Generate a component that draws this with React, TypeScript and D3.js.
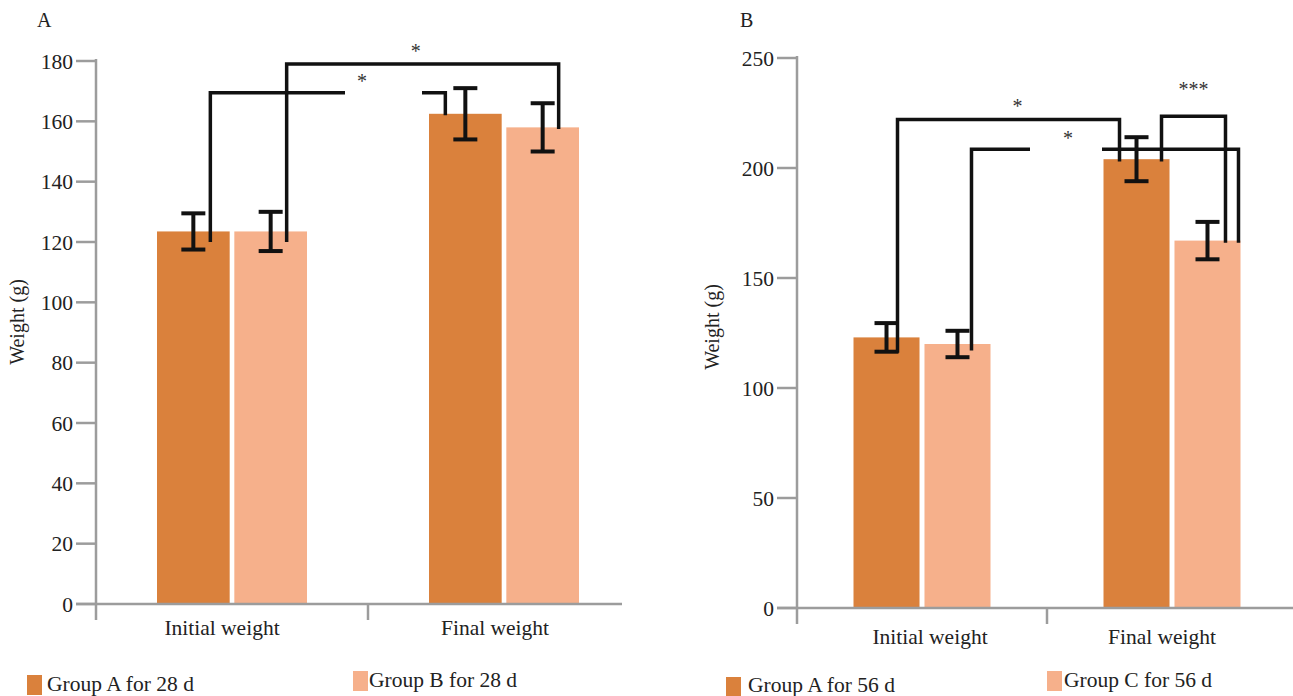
import React from "react";
import * as d3 from "d3";

// Shared categories on the x axis
const categories = ["Initial weight", "Final weight"];

// Panel A: 28-day trial
const panelASeries = ["Group A for 28 d", "Group B for 28 d"];
const groupA28Mean = [123.5, 162.5];
const groupA28Err = [6, 8.5];
const groupB28Mean = [123.5, 158];
const groupB28Err = [6.5, 8];
const panelATicks = [0, 20, 40, 60, 80, 100, 120, 140, 160, 180];

// Panel B: 56-day trial
const panelBSeries = ["Group A for 56 d", "Group C for 56 d"];
const groupA56Mean = [123, 204];
const groupA56Err = [6.5, 10];
const groupC56Mean = [120, 167];
const groupC56Err = [6, 8.5];
const panelBTicks = [0, 50, 100, 150, 200, 250];

// Significance brackets: series/category at each foot, foot heights and bar level (g)
const panelABrackets = [
  { label: "*", ls: 0, lc: 0, lFoot: 120, rs: 0, rc: 1, rFoot: 162, level: 169.5, split: true },
  { label: "*", ls: 1, lc: 0, lFoot: 120, rs: 1, rc: 1, rFoot: 157.5, level: 179, split: false },
];
const panelBBrackets = [
  { label: "*", ls: 0, lc: 0, lFoot: 116, rs: 0, rc: 1, rFoot: 203, level: 222, split: false },
  { label: "*", ls: 1, lc: 0, lFoot: 117, rs: 1, rc: 1, rFoot: 166, level: 208.5, split: true },
  { label: "***", ls: 0, lc: 1, lFoot: 203, rs: 1, rc: 1, rFoot: 166, level: 223.5, split: false },
];

const COLORS = ["#DA813C", "#F6B08B"];
const AXIS = "#9c9c9c";
const FONT = "'Liberation Serif', 'Times New Roman', serif";

type Bracket = typeof panelABrackets[number];
type Nudge = { l: number; r: number; gap?: [number, number]; lx: number; ly: number };

type PanelProps = {
  letter: string;
  letterX: number;
  axisX: number;
  rightX: number;
  axisEnd: number;
  yBottom: number;
  yTop: number;
  yMax: number;
  ticks: number[];
  series: string[];
  means: number[][];
  errs: number[][];
  innerPad: number;
  innerWidth: number;
  brackets: Bracket[];
  nudges: Nudge[];
  catDx: number[];
  catY: number;
  yLabelX: number;
  yLabelY: number;
  legend: { sx: number; sy: number; tx: number; ty: number }[];
  boundaryTicks: number[];
};

function Panel(p: PanelProps) {
  const x = d3.scaleBand<string>().domain(categories).range([p.axisX, p.rightX]);
  const inner = d3
    .scaleBand<string>()
    .domain(p.series)
    .range([(x.bandwidth() - p.innerWidth) / 2, (x.bandwidth() + p.innerWidth) / 2])
    .paddingInner(p.innerPad);
  const y = d3.scaleLinear().domain([0, p.yMax]).range([p.yBottom, p.yTop]);
  const bw = inner.bandwidth();
  const barX = (s: number, c: number) => (x(categories[c]) as number) + (inner(p.series[s]) as number);
  const barCx = (s: number, c: number) => barX(s, c) + bw / 2;
  const boundary = x(categories[1]) as number;

  return (
    <g>
      <text x={p.letterX} y={27} fontFamily={FONT} fontSize={20} fill="#222">{p.letter}</text>

      {/* y axis */}
      <line x1={p.axisX} x2={p.axisX} y1={y(p.yMax) - 2} y2={p.yBottom + 16} stroke={AXIS} strokeWidth={2.5} />
      {p.ticks.map((t) => (
        <g key={t}>
          <line x1={p.axisX - 20} x2={p.axisX} y1={y(t)} y2={y(t)} stroke={AXIS} strokeWidth={2.5} />
          <text x={p.axisX - 23} y={y(t)} dy="0.35em" textAnchor="end" fontFamily={FONT} fontSize={21.5} fill="#222">
            {t}
          </text>
        </g>
      ))}
      <text
        transform={`translate(${p.yLabelX},${p.yLabelY}) rotate(-90)`}
        textAnchor="middle"
        fontFamily={FONT}
        fontSize={20}
        fill="#222"
      >
        Weight (g)
      </text>

      {/* bars */}
      {p.means.map((row, s) =>
        row.map((v, c) => (
          <rect key={`${s}-${c}`} x={barX(s, c)} y={y(v)} width={bw} height={p.yBottom - y(v)} fill={COLORS[s]} />
        ))
      )}

      {/* x axis */}
      <line x1={p.axisX - 20} x2={p.axisEnd} y1={p.yBottom} y2={p.yBottom} stroke={AXIS} strokeWidth={2.5} />
      {p.boundaryTicks.map((c) => (
        <line
          key={c}
          x1={x(categories[c]) as number}
          x2={x(categories[c]) as number}
          y1={p.yBottom}
          y2={p.yBottom + 16}
          stroke={AXIS}
          strokeWidth={2.5}
        />
      ))}
      {categories.map((c, i) => (
        <text
          key={c}
          x={(x(c) as number) + x.bandwidth() / 2 + p.catDx[i]}
          y={p.catY}
          textAnchor="middle"
          fontFamily={FONT}
          fontSize={21.5}
          fill="#222"
        >
          {c}
        </text>
      ))}

      {/* error bars */}
      {p.means.map((row, s) =>
        row.map((v, c) => {
          const cx = barCx(s, c);
          const e = p.errs[s][c];
          return (
            <g key={`e${s}-${c}`} stroke="#111" strokeWidth={4}>
              <line x1={cx} x2={cx} y1={y(v - e)} y2={y(v + e)} />
              <line x1={cx - 12} x2={cx + 12} y1={y(v + e)} y2={y(v + e)} />
              <line x1={cx - 12} x2={cx + 12} y1={y(v - e)} y2={y(v - e)} />
            </g>
          );
        })
      )}

      {/* significance brackets */}
      {p.brackets.map((b, i) => {
        const n = p.nudges[i];
        const lx = barCx(b.ls, b.lc) + n.l;
        const rx = barCx(b.rs, b.rc) + n.r;
        const ly = y(b.level);
        let d: string;
        if (b.split && n.gap) {
          d =
            `M${lx},${y(b.lFoot)}V${ly}H${boundary + n.gap[0]}` +
            `M${boundary + n.gap[1]},${ly}H${rx}V${y(b.rFoot)}`;
        } else {
          d = `M${lx},${y(b.lFoot)}V${ly}H${rx}V${y(b.rFoot)}`;
        }
        const tx = b.split ? boundary + n.lx : (lx + rx) / 2 + n.lx;
        return (
          <g key={`b${i}`}>
            <path d={d} fill="none" stroke="#111" strokeWidth={3.5} />
            <text x={tx} y={ly + n.ly} textAnchor="middle" fontFamily={FONT} fontSize={20} fill="#333">
              {b.label}
            </text>
          </g>
        );
      })}

      {/* legend */}
      {p.series.map((s, i) => (
        <g key={s}>
          <rect x={p.legend[i].sx} y={p.legend[i].sy} width={15} height={20} fill={COLORS[i]} />
          <text x={p.legend[i].tx} y={p.legend[i].ty} fontFamily={FONT} fontSize={21.5} fill="#222">
            {s}
          </text>
        </g>
      ))}
    </g>
  );
}

export default function App() {
  return (
    <svg
      width={1293}
      height={696}
      style={{ position: "absolute", left: 0, top: 0, background: "#fff" }}
    >
      <rect width={1293} height={696} fill="#fff" />
      <Panel
        letter="A"
        letterX={37}
        axisX={96}
        rightX={640}
        axisEnd={622}
        yBottom={604}
        yTop={61}
        yMax={180}
        ticks={panelATicks}
        series={panelASeries}
        means={[groupA28Mean, groupB28Mean]}
        errs={[groupA28Err, groupB28Err]}
        innerPad={0.06}
        innerWidth={150}
        brackets={panelABrackets}
        nudges={[
          { l: 17, r: -20, gap: [-23, 54], lx: -6, ly: -5 },
          { l: 16, r: 16, lx: -7, ly: -6 },
        ]}
        catDx={[-10, -9]}
        catY={635}
        yLabelX={24}
        yLabelY={322}
        legend={[
          { sx: 27, sy: 675, tx: 47, ty: 691 },
          { sx: 353, sy: 671, tx: 369, ty: 687 },
        ]}
        boundaryTicks={[1]}
      />
      <Panel
        letter="B"
        letterX={740}
        axisX={797}
        rightX={1297}
        axisEnd={1293}
        yBottom={608}
        yTop={58}
        yMax={250}
        ticks={panelBTicks}
        series={panelBSeries}
        means={[groupA56Mean, groupC56Mean]}
        errs={[groupA56Err, groupC56Err]}
        innerPad={0.07}
        innerWidth={137}
        brackets={panelBBrackets}
        nudges={[
          { l: 11, r: -17, lx: 9, ly: -7 },
          { l: 14, r: 31, gap: [-17, 55], lx: 21, ly: -4 },
          { l: 25, r: 18, lx: 0, ly: -20 },
        ]}
        catDx={[8, -10]}
        catY={644}
        yLabelX={719}
        yLabelY={327}
        legend={[
          { sx: 726, sy: 677, tx: 748, ty: 692 },
          { sx: 1047, sy: 671, tx: 1064, ty: 687 },
        ]}
        boundaryTicks={[1]}
      />
    </svg>
  );
}
